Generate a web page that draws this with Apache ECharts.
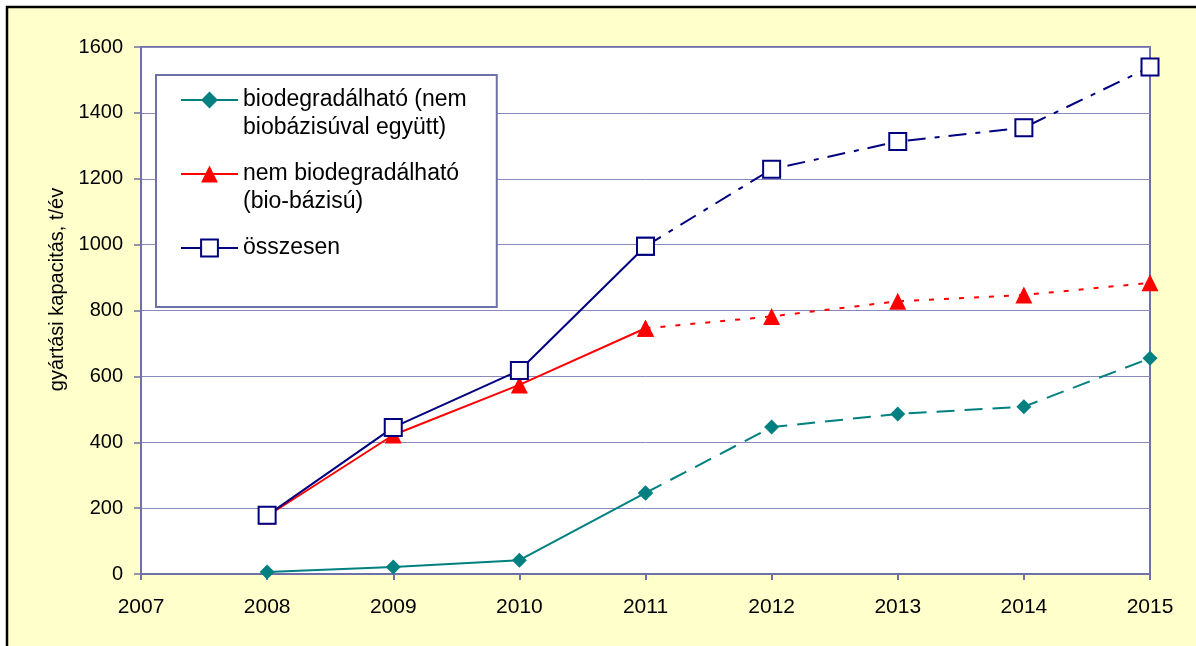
<!DOCTYPE html>
<html>
<head>
<meta charset="utf-8">
<script src="https://cdn.jsdelivr.net/npm/echarts@6/dist/echarts.min.js"></script>
<style>
    html, body { margin: 0; padding: 0; background: #fff; }
    #figure { width: 1196px; height: 646px; }
</style>
</head>
<body>
<div id="figure"></div>
<script>
// years on the x axis, measured up to 2011, projected after
let years = [2008, 2009, 2010, 2011, 2012, 2013, 2014, 2015];
let split_index = 3; // 2011 is where the dashed part begins

let bio = [6, 21, 42, 246, 446, 486, 508, 655];
let nem_bio = [176, 422, 574, 746, 782, 828, 847, 884];
let osszesen = [178, 445, 618, 995, 1229, 1313, 1355, 1539];

let names = [
    'biodegradálható (nem\nbiobázisúval együtt)',
    'nem biodegradálható\n(bio-bázisú)',
    'összesen'
];
let colors = ['#008080', '#ff0000', '#000080'];
let dashes = [[18, 10], [5, 10], [18, 9, 5, 9]];

let font = 'Liberation Sans, Arial, sans-serif';
let axis_color = '#7070a8';

function pairs(values, from, to) {
    let out = [];
    for (let i = from; i <= to; i++) {
        out.push([years[i], values[i]]);
    }
    return out;
}

function make_series(idx, values, symbol, size, extra) {
    let base = {
        type: 'line',
        name: names[idx],
        symbol: symbol,
        symbolSize: size,
        color: colors[idx],
        itemStyle: Object.assign({color: colors[idx]}, extra || {}),
        animation: false,
        z: 2 + idx
    };
    let solid = Object.assign({}, base, {
        data: pairs(values, 0, split_index),
        lineStyle: {color: colors[idx], width: 2, type: 'solid'}
    });
    let dashed = Object.assign({}, base, {
        data: pairs(values, split_index, years.length - 1),
        lineStyle: {color: colors[idx], width: 2, type: dashes[idx]}
    });
    return [solid, dashed];
}

let series = [].concat(
    make_series(0, bio, 'diamond', [15, 15]),
    make_series(1, nem_bio, 'triangle', 17),
    make_series(2, osszesen, 'emptyRect', 17, {borderWidth: 2})
);

let figure = document.getElementById('figure');
let myChart = echarts.init(figure);

let option = {
    backgroundColor: '#ffffff',
    animation: false,
    graphic: {
        elements: [{
            type: 'rect',
            z: -10,
            silent: true,
            shape: {x: 7, y: 7, width: 1200, height: 650},
            style: {fill: '#ffffcc', stroke: '#000000', lineWidth: 2.5}
        }]
    },
    grid: {
        left: 141,
        right: 46,
        top: 47,
        bottom: 72,
        show: true,
        backgroundColor: '#ffffff',
        borderColor: axis_color,
        borderWidth: 2
    },
    legend: {
        left: 156,
        top: 75,
        orient: 'vertical',
        selectedMode: false,
        data: names,
        itemWidth: 57,
        itemHeight: 21,
        itemGap: -10,
        padding: [-17, 30, 17, 24],
        backgroundColor: '#ffffff',
        borderColor: axis_color,
        borderWidth: 2,
        // blank lines keep the marker level with the first text line
        formatter: function (name) {
            let lines = name.split('\n');
            return lines.length > 1 ? '\n' + name : '\n' + name + '\n';
        },
        textStyle: {
            fontFamily: font,
            fontSize: 23,
            lineHeight: 28,
            color: '#000'
        }
    },
    xAxis: {
        type: 'value',
        min: 2007,
        max: 2015,
        interval: 1,
        axisLine: {lineStyle: {color: axis_color, width: 2}},
        axisTick: {show: true, length: 6, lineStyle: {color: axis_color, width: 2}},
        splitLine: {show: false},
        axisLabel: {
            fontFamily: font,
            fontSize: 21,
            color: '#000',
            margin: 23,
            showMinLabel: true,
            showMaxLabel: true,
            formatter: function (v) { return String(v); }
        }
    },
    yAxis: {
        type: 'value',
        min: 0,
        max: 1600,
        interval: 200,
        name: 'gyártási kapacitás, t/év',
        nameLocation: 'middle',
        nameGap: 72,
        nameTextStyle: {
            fontFamily: font,
            fontSize: 20,
            color: '#000',
            padding: [0, 0, 0, 42]
        },
        axisLine: {show: true, lineStyle: {color: axis_color, width: 2}},
        axisTick: {show: true, length: 7, lineStyle: {color: axis_color, width: 1.5}},
        splitLine: {lineStyle: {color: '#8888bb', width: 1}},
        axisLabel: {
            fontFamily: font,
            fontSize: 20,
            color: '#000',
            margin: 18,
            formatter: function (v) { return String(v); }
        }
    },
    series: series
};

myChart.setOption(option);
</script>
</body>
</html>
